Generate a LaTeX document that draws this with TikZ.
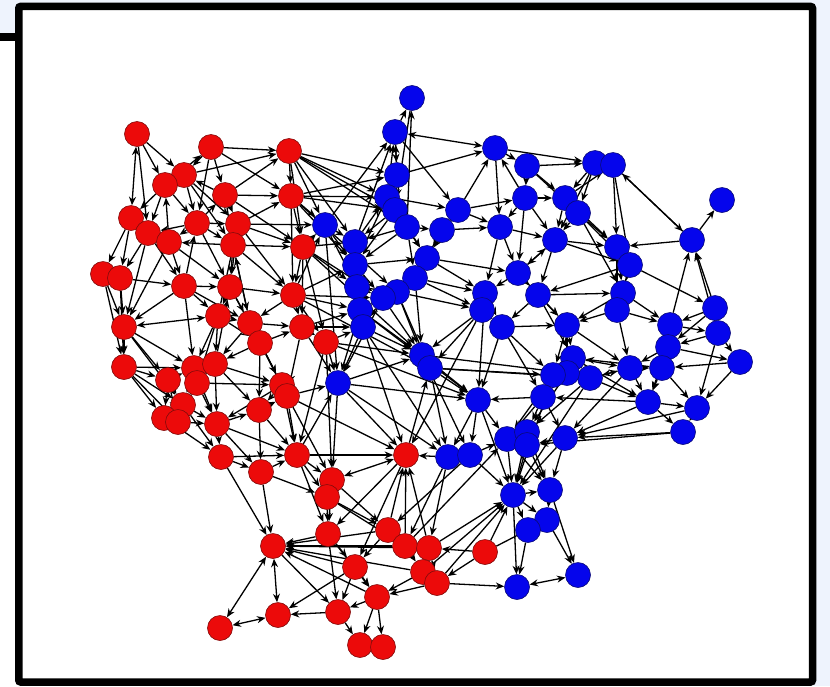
\documentclass[tikz,border=0pt]{standalone}
\usetikzlibrary{arrows.meta}
\definecolor{bgblue}{RGB}{238,243,253}
\definecolor{nred}{RGB}{236,10,10}
\definecolor{nredd}{RGB}{130,10,10}
\definecolor{nblue}{RGB}{5,5,236}
\definecolor{nblued}{RGB}{10,10,120}
\pgfdeclarelayer{bglayer}
\pgfdeclarelayer{edgelayer}
\pgfsetlayers{bglayer,edgelayer,main}
\tikzset{
 rnode/.style={circle,fill=nred,draw=nredd,line width=0.6pt,minimum size=25pt,inner sep=0pt},
 bnode/.style={circle,fill=nblue,draw=nblued,line width=0.6pt,minimum size=25pt,inner sep=0pt},
 edge/.style={line width=1.3pt,-{Stealth[length=8.5pt,width=7pt]}},
 edgeb/.style={line width=1.3pt,{Stealth[length=8.5pt,width=7pt]}-{Stealth[length=8.5pt,width=7pt]}},
 frame/.style={line width=7.5pt,rounded corners=2pt}
}
\begin{document}
\begin{tikzpicture}[x=1pt,y=-1pt]
\useasboundingbox (0,0) rectangle (830,686);
\begin{pgfonlayer}{bglayer}
\fill[bgblue] (0,0) rectangle (830,686);
\fill[white] (0,41) rectangle (19,686);
\fill[white] (19,6.5) rectangle (812.5,686);
\fill[black] (0,33) rectangle (16,41);
\end{pgfonlayer}
% red nodes
\foreach \n/\x/\y in {r1/137/134,r2/211/147,r3/289/151,r4/184/175,r5/165/185,r6/225/195,r7/291/196,r8/131/218,r9/197/223,r10/238/224,
 r11/148/233,r12/169/242,r13/233/245,r14/303/247,r15/103/274,r16/120/278,r17/184/286,r18/230/287,r19/293/295,r20/124/327,
 r21/218/316,r22/250/323,r23/260/343,r24/302/327,r25/326/342,r26/124/367,r27/168/380,r28/194/368,r29/215/364,r30/197/383,
 r31/282/385,r32/287/396,r33/183/405,r34/164/418,r35/178/422,r36/217/424,r37/259/410,r38/221/457,r39/261/472,r40/297/455,
 r41/332/480,r42/327/497,r43/406/455,r44/273/546,r45/328/534,r46/388/530,r47/405/546,r48/429/548,r49/355/567,r50/423/572,
 r51/437/583,r52/377/597,r53/338/612,r54/278/615,r55/220/628,r56/360/645,r57/383/647,r58/485/552}
 \node[rnode] (\n) at (\x,\y) {};
% blue nodes
\foreach \n/\x/\y in {b1/412/98,b2/395/132,b3/495/148,b4/527/166,b5/595/163,b6/613/165,b7/722/200,b8/397/175,b9/387/197,b10/395/210,
 b11/407/227,b12/458/210,b13/442/230,b14/525/198,b15/565/198,b16/578/213,b17/500/227,b18/555/240,b19/617/247,b20/692/240,
 b21/630/265,b22/325/225,b23/355/242,b24/355/265,b25/357/287,b26/427/258,b27/415/278,b28/397/292,b29/383/298,b30/518/273,
 b31/538/295,b32/485/293,b33/482/310,b34/623/293,b35/617/310,b36/715/308,b37/670/325,b38/718/333,b39/668/347,b40/740/362,
 b41/360/310,b42/363/327,b43/502/327,b44/567/325,b45/573/358,b46/590/378,b47/567/373,b48/553/375,b49/543/397,b50/630/368,
 b51/662/368,b52/648/402,b53/697/408,b54/683/432,b55/565/438,b56/338/383,b57/422/355,b58/430/368,b59/478/400,b60/448/457,
 b61/470/455,b62/507/439,b63/527/432,b64/527/445,b65/513/495,b66/550/490,b67/547/520,b68/528/530,b69/578/575,b70/517/587}
 \node[bnode] (\n) at (\x,\y) {};
\begin{pgfonlayer}{edgelayer}
% red community and red-blue links
\foreach \a/\b in {r1/r4,r1/r5,r2/r3,r2/r4,r2/r6,r2/r9,r5/r2,r6/r3,r4/r3,r3/b10,r3/b9,r3/b23,r3/r7,
 r4/r5,r4/r9,r6/r4,r4/r10,r5/r8,r5/r11,r12/r5,r6/r7,r6/r10,r9/r6,r6/r13,
 r7/b8,r10/r7,r7/r14,r7/b22,r7/b9,r7/b24,r8/r11,r8/r15,r8/r16,r12/r8,
 r9/r11,r9/r12,r9/r13,r17/r9,r9/r18,r10/r13,r10/r14,r10/r18,r21/r10,
 r11/r12,r11/r16,r11/r17,r12/r17,r12/r20,r13/r12,r13/r14,r13/r18,r13/r19,r22/r13,
 r14/b22,r14/r19,r14/r24,r14/b23,r14/r25,r14/b25,r15/r20,r16/r20,r16/r26,
 r17/r18,r17/r21,r17/r28,r17/r20,r18/r19,r18/r21,r18/r22,r29/r18,
 r19/r24,r19/r22,r19/b22,r19/r25,r19/b41,r19/b24,r20/r26,r20/r27,r20/r28,
 r21/r22,r21/r28,r21/r29,r21/r23,r22/r23,r22/r24,r22/r31,
 r23/r31,r23/r24,r23/r37,r23/r29,r24/r25,r24/b41,r24/r32,
 r25/b56,r25/b42,r25/r40,r25/r41,r25/b59,r26/r27,r26/r33,r26/r34,r26/r28,
 r27/r28,r27/r34,r27/r33,r28/r29,r28/r30,r28/r36,r29/r30,r29/r31,r29/r37,
 r30/r33,r30/r36,r30/r31,r31/r37,r31/r36,r31/r40,r32/r40,r32/r41,r32/b56,r32/r43,
 r33/r35,r33/r36,r33/r38,r34/r35,r34/r38,r35/r36,r36/r37,r36/r38,r36/r39,
 r37/r40,r37/r39,r38/r39,r38/r44,r39/r40,r39/r42,r39/r44,r40/r41,r40/r42,r40/r43,
 r41/r42,r41/r46,r42/r45,r42/r46,r42/r47,b60/r43,b42/r43,r43/b58,b56/r43,
 r45/r44,r46/r44,r47/r44,r48/r44,r49/r44,r52/r44,r50/r44,
 r41/r45,r45/r49,r45/r53,r45/r52,r46/r43,r46/r49,r46/r47,r47/r43,r47/r48,r47/r50,
 r48/r43,r48/r50,r48/r51,r49/r52,r49/r53,r49/r54,r50/r52,r50/r51,r51/r52,r51/b70,
 r52/r56,r52/r57,r52/r53,r53/r54,r53/r56,r58/b65,r58/r48,r58/r51,r58/b67,
 r48/b65,r51/b65,r50/b65,r47/b62,b61/b62,b60/r48,b61/r46,b56/b60,b42/b60,b56/r41,
 r8/r12,r16/r17,r15/r26,r20/r33,r26/r35,r27/r35,r21/r30,r22/r29,r18/r23,r17/r22,
 r9/r10,r5/r9,r2/r7,r3/r14,r7/r19,r10/r19,r12/r18,r1/r11,r4/r13,r6/r14,r11/r20,
 r24/b56,r19/b29,r14/b29,r7/b10,r3/b22,r3/b8,r10/b22,r13/r22,r23/r32,r28/r33,r30/r35,
 r33/r34,r37/r32,r38/r40,r36/r40,r29/r36,r40/r45,r43/r45,r43/r49,b60/r47,r44/r53,
 r7/b28,r14/b57,r19/b58,r25/b57,b33/r43,r40/b56,r3/b11,r24/b42}
 \draw[edge] (\a) -- (\b);
% blue community
\foreach \a/\b in {b11/b1,b2/b1,b9/b2,b8/b2,b22/b2,b23/b2,b3/b5,b3/b4,b14/b3,b8/b3,
 b4/b5,b4/b15,b4/b14,b5/b16,b5/b15,b6/b19,b20/b6,b15/b6,b6/b21,b20/b7,
 b8/b9,b8/b10,b9/b10,b9/b11,b9/b12,b10/b11,b10/b24,b10/b26,
 b11/b13,b11/b23,b11/b27,b12/b13,b12/b14,b12/b17,b12/b26,b13/b26,b13/b17,b13/b27,
 b14/b15,b14/b17,b14/b18,b15/b16,b15/b18,b16/b19,b16/b18,b16/b21,
 b17/b18,b17/b30,b17/b32,b18/b19,b18/b30,b18/b31,b18/b21,b19/b21,b20/b19,b19/b34,
 b36/b20,b38/b20,b37/b20,b21/b36,b21/b34,b21/b35,b21/b31,b22/b23,b22/b24,b22/b56,
 b23/b24,b23/b25,b23/b9,b24/b25,b24/b26,b25/b29,b25/b41,b25/b28,b26/b27,b26/b30,
 b27/b28,b27/b32,b28/b29,b28/b57,b28/b33,b29/b41,b29/b42,b29/b57,
 b30/b31,b30/b32,b30/b44,b31/b43,b31/b44,b31/b34,b32/b33,b32/b43,b33/b43,b33/b57,b33/b58,
 b34/b35,b34/b37,b35/b44,b35/b37,b35/b50,b36/b38,b36/b37,b37/b38,b37/b39,
 b38/b40,b38/b39,b39/b51,b39/b40,b39/b50,b40/b53,b40/b51,b41/b42,b41/b57,b42/b57,b42/b56,
 b43/b44,b43/b48,b43/b49,b44/b45,b44/b47,b45/b46,b45/b47,b45/b50,b46/b47,b46/b50,b46/b52,
 b47/b48,b48/b49,b49/b55,b49/b62,b49/b59,b50/b51,b50/b52,b51/b52,b51/b53,
 b52/b53,b52/b55,b52/b54,b53/b54,b54/b55,b55/b64,b55/b66,b56/b57,b57/b58,b57/b59,
 b58/b59,b58/b48,b57/b47,b58/b46,b59/b60,b59/b62,b59/b65,b61/b65,
 b62/b63,b62/b64,b62/b65,b63/b64,b63/b66,b63/b65,b64/b65,b64/b66,
 b65/b66,b65/b67,b65/b68,b65/b70,b66/b67,b66/b69,b67/b68,b67/b69,b68/b70,b55/b65,b46/b65,
 b22/b25,b24/b29,b9/b24,b10/b23,b11/b24,b11/b26,b12/b3,b3/b17,b14/b30,b26/b32,b27/b33,
 b43/b59,b32/b59,b44/b48,b47/b49,b45/b52,b48/b62,b47/b63,b46/b63,b50/b55,b49/b63,
 b48/b65,b58/b60,b57/b61,b59/b61,b41/b56,b29/b56,b28/b58,b27/b57,b2/b8,b1/b10,
 b4/b16,b5/b18,b6/b20,b15/b19,b16/b34,b19/b35,b30/b18,b31/b45,b44/b50,b34/b44,
 b37/b51,b39/b52,b38/b53,b36/b39,b50/b46,b51/b45,b52/b49,b53/b55,b54/b64,b62/b66,
 b41/b59,b56/b59,b2/b12}
 \draw[edge] (\a) -- (\b);
\foreach \a/\b in {r1/r8,r15/r16,r20/r21,r31/r32,r41/r43,r44/r54,r44/r55,r55/r54,b2/b3,b5/b6,b60/b61,b69/b70}
 \draw[edgeb] (\a) -- (\b);
\end{pgfonlayer}
\draw[frame] (18.75,6.4) rectangle (812.5,682);
\end{tikzpicture}
\end{document}
